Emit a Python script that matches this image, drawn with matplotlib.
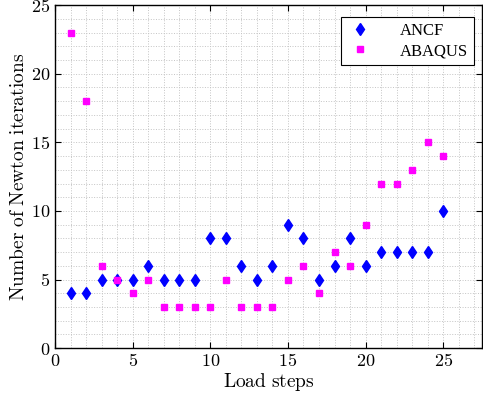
import numpy as np
import matplotlib.pyplot as plt

plt.rcParams['mathtext.fontset'] = 'cm'
plt.rcParams['font.family'] = 'serif'
plt.rcParams['font.serif'] = ['Liberation Serif', 'DejaVu Serif']

# Data
steps = list(range(1, 26))
ancf = [4, 4, 5, 5, 5, 6, 5, 5, 5, 8, 8, 6, 5, 6, 9, 8, 5, 6, 8, 6, 7, 7, 7, 7, 10]
abaqus = [23, 18, 6, 5, 4, 5, 3, 3, 3, 3, 5, 3, 3, 3, 5, 6, 4, 7, 6, 9, 12, 12, 13, 15, 14]

xticks = [0, 5, 10, 15, 20, 25]
yticks = [0, 5, 10, 15, 20, 25]

fig = plt.figure(figsize=(4.83, 3.97), dpi=100)
ax = fig.add_axes([0.114, 0.123, 0.884, 0.864])

ax.plot(steps, ancf, 'd', color='#0000ff', markersize=6, label='ANCF', zorder=3)
ax.plot(steps, abaqus, 's', color='#ff00ff', markersize=5, label='ABAQUS', zorder=3)

ax.set_xlim(0, 27.5)
ax.set_ylim(0, 25)
ax.set_xticks(xticks)
ax.set_yticks(yticks)
ax.set_xticklabels(['$%d$' % t for t in xticks], fontsize=13)
ax.set_yticklabels(['$%d$' % t for t in yticks], fontsize=13)
ax.set_xticks(np.arange(0, 28, 1), minor=True)
ax.set_yticks(np.arange(0, 26, 1), minor=True)
ax.tick_params(which='both', direction='in', top=True, right=True)
ax.tick_params(which='minor', length=0)
ax.tick_params(which='major', length=4, width=0.8)
ax.grid(which='both', linestyle=':', color='#c4c4c4', linewidth=0.7)
for s in ax.spines.values():
    s.set_linewidth(1.0)

ax.set_xlabel(r'$\mathrm{Load\ steps}$', fontsize=14, labelpad=1)
ax.set_ylabel(r'$\mathrm{Number\ of\ Newton\ iterations}$', fontsize=14, labelpad=2)

leg = ax.legend(loc='upper right', bbox_to_anchor=(0.981, 0.965), borderaxespad=0,
                fancybox=False, edgecolor='black', framealpha=1,
                fontsize=12, handletextpad=1.6, handlelength=1.6, borderpad=0.35,
                labelspacing=0.25)
leg.get_frame().set_linewidth(0.8)

fig.savefig('out.png', dpi=100)
